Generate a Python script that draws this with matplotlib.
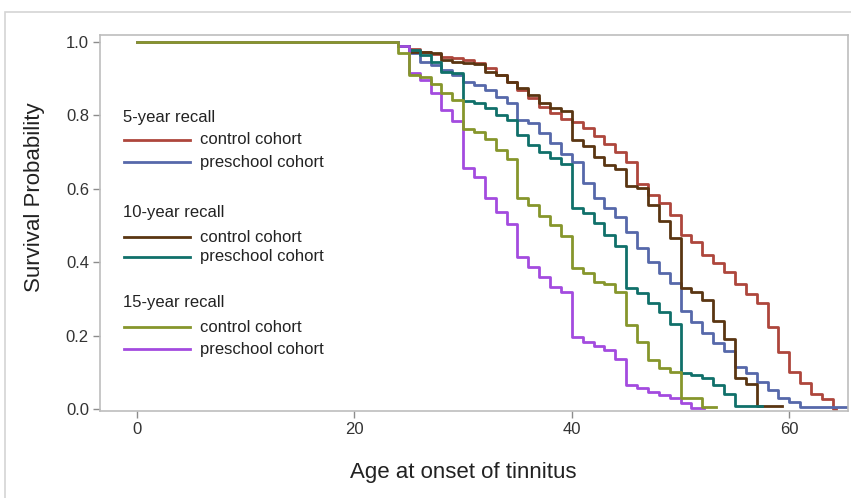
import matplotlib
matplotlib.use('Agg')
import matplotlib.pyplot as plt
from matplotlib.patches import Rectangle
from matplotlib.lines import Line2D

plt.rcParams['font.family'] = ['Liberation Sans', 'DejaVu Sans']

# survival curves (age of step, survival after step)
age_5c = [0, 24, 25, 26, 27, 28, 29, 30, 31, 32, 33, 34, 35, 36, 37, 38, 39, 40, 41, 42, 43,
          44, 45, 46, 47, 48, 49, 50, 51, 52, 53, 54, 55, 56, 57, 58, 59, 60, 61, 62, 63, 64, 64.3]
surv_5c = [1.0, 0.99, 0.98, 0.973, 0.967, 0.96, 0.955, 0.95, 0.943, 0.93, 0.91, 0.89, 0.869,
           0.847, 0.823, 0.807, 0.79, 0.783, 0.765, 0.745, 0.722, 0.70, 0.672, 0.612, 0.583,
           0.561, 0.529, 0.474, 0.455, 0.42, 0.398, 0.373, 0.34, 0.313, 0.289, 0.223, 0.155,
           0.10, 0.072, 0.042, 0.028, 0.0, 0.0]

age_5p = [0, 24, 25, 26, 27, 28, 29, 30, 31, 32, 33, 34, 35, 36, 37, 38, 39, 40, 41, 42, 43,
          44, 45, 46, 47, 48, 49, 50, 51, 52, 53, 54, 55, 56, 57, 58, 59, 60, 61, 65.3]
surv_5p = [1.0, 0.99, 0.97, 0.945, 0.937, 0.924, 0.91, 0.891, 0.883, 0.869, 0.85, 0.834,
           0.787, 0.779, 0.752, 0.725, 0.695, 0.672, 0.616, 0.575, 0.548, 0.523, 0.482, 0.439,
           0.40, 0.37, 0.343, 0.268, 0.237, 0.207, 0.18, 0.157, 0.114, 0.098, 0.074, 0.052,
           0.03, 0.019, 0.005, 0.005]

age_10c = [0, 24, 25, 27, 28, 29, 30, 31, 32, 33, 34, 35, 36, 37, 38, 39, 40, 41, 42, 43, 44,
           45, 46, 47, 48, 49, 50, 51, 52, 53, 54, 55, 56, 57, 59.3]
surv_10c = [1.0, 0.99, 0.973, 0.97, 0.951, 0.946, 0.943, 0.94, 0.918, 0.91, 0.891, 0.875,
            0.856, 0.834, 0.82, 0.812, 0.733, 0.716, 0.687, 0.665, 0.653, 0.607, 0.603, 0.556,
            0.512, 0.466, 0.33, 0.32, 0.298, 0.24, 0.19, 0.084, 0.068, 0.008, 0.008]

age_10p = [0, 24, 25, 26, 27, 28, 29, 30, 31, 32, 33, 34, 35, 36, 37, 38, 39, 40, 41, 42, 43,
           44, 45, 46, 47, 48, 49, 50, 51, 52, 53, 54, 55, 57.5]
surv_10p = [1.0, 0.99, 0.978, 0.965, 0.945, 0.918, 0.915, 0.84, 0.835, 0.82, 0.80, 0.787,
            0.747, 0.72, 0.70, 0.685, 0.668, 0.548, 0.534, 0.507, 0.474, 0.445, 0.33, 0.315,
            0.29, 0.265, 0.232, 0.098, 0.093, 0.085, 0.065, 0.04, 0.008, 0.008]

age_15c = [0, 24, 25, 26, 27, 28, 29, 30, 31, 32, 33, 34, 35, 36, 37, 38, 39, 40, 41, 42, 43,
           44, 45, 46, 47, 48, 49, 50, 52, 53.3]
surv_15c = [1.0, 0.97, 0.91, 0.905, 0.886, 0.861, 0.842, 0.763, 0.755, 0.735, 0.705, 0.68,
            0.575, 0.556, 0.525, 0.50, 0.47, 0.384, 0.37, 0.346, 0.34, 0.319, 0.229, 0.183,
            0.134, 0.111, 0.10, 0.03, 0.005, 0.005]

age_15p = [0, 24, 25, 26, 27, 28, 29, 30, 31, 32, 33, 34, 35, 36, 37, 38, 39, 40, 41, 42, 43,
           44, 45, 46, 47, 48, 49, 50, 51, 52.2]
surv_15p = [1.0, 0.99, 0.915, 0.896, 0.86, 0.815, 0.785, 0.657, 0.632, 0.575, 0.537, 0.504,
            0.414, 0.387, 0.36, 0.332, 0.319, 0.196, 0.183, 0.172, 0.16, 0.137, 0.065, 0.057,
            0.046, 0.038, 0.03, 0.016, 0.003, 0.003]

c_red, c_blue, c_brown = '#AE463C', '#5668AA', '#5A3512'
c_teal, c_olive, c_purple = '#10706A', '#86962C', '#A34BDF'

W, H = 851, 498
fig = plt.figure(figsize=(W / 100, H / 100), dpi=100)


def fx(px):
    return px / W


def fy(py):
    return 1 - py / H


# outer frame (runs off the right and bottom edges)
fig.add_artist(Rectangle((fx(5), fy(520)), fx(870), (520 - 12) / H, transform=fig.transFigure,
                         fill=False, edgecolor='#d4d4d4', lw=1.2))

ax = fig.add_axes([fx(100), fy(411), (848 - 100) / W, (411 - 35) / H])

lw = 2.0
ax.step(age_5c, surv_5c, where='post', color=c_red, lw=lw)
ax.step(age_5p, surv_5p, where='post', color=c_blue, lw=lw)
ax.step(age_10c, surv_10c, where='post', color=c_brown, lw=lw)
ax.step(age_10p, surv_10p, where='post', color=c_teal, lw=lw)
ax.step(age_15p, surv_15p, where='post', color=c_purple, lw=lw)
ax.step(age_15c, surv_15c, where='post', color=c_olive, lw=lw)

ax.set_xlim(-3.4, 65.4)
ax.set_ylim(-0.0055, 1.019)
ax.set_xticks([0, 20, 40, 60])
ax.set_yticks([0.0, 0.2, 0.4, 0.6, 0.8, 1.0])
ax.set_yticklabels(['0.0', '0.2', '0.4', '0.6', '0.8', '1.0'])
for s in ax.spines.values():
    s.set_color('#bdbdbd')
    s.set_linewidth(1.2)
ax.tick_params(length=5, width=1, color='#8c8c8c', labelcolor='#333333', labelsize=12, pad=3)

fig.text(fx(463), fy(472), 'Age at onset of tinnitus', ha='center', va='center',
         fontsize=16, color='#222222')
fig.text(fx(35), fy(197), 'Survival Probability', ha='center', va='center',
         rotation=90, fontsize=16, color='#222222')

# legend, drawn by hand
groups = [
    ('5-year recall', 117, [(c_red, 'control cohort', 140), (c_blue, 'preschool cohort', 162)]),
    ('10-year recall', 212, [(c_brown, 'control cohort', 237), (c_teal, 'preschool cohort', 257)]),
    ('15-year recall', 302, [(c_olive, 'control cohort', 327), (c_purple, 'preschool cohort', 349)]),
]
for title, ty, rows in groups:
    fig.text(fx(123), fy(ty), title, ha='left', va='center', fontsize=12, color='#222222')
    for col, lab, ry in rows:
        fig.add_artist(Line2D([fx(124), fx(190)], [fy(ry), fy(ry)], color=col, lw=lw,
                              transform=fig.transFigure))
        fig.text(fx(200), fy(ry), lab, ha='left', va='center', fontsize=12, color='#222222')

fig.savefig('out.png', dpi=100)
